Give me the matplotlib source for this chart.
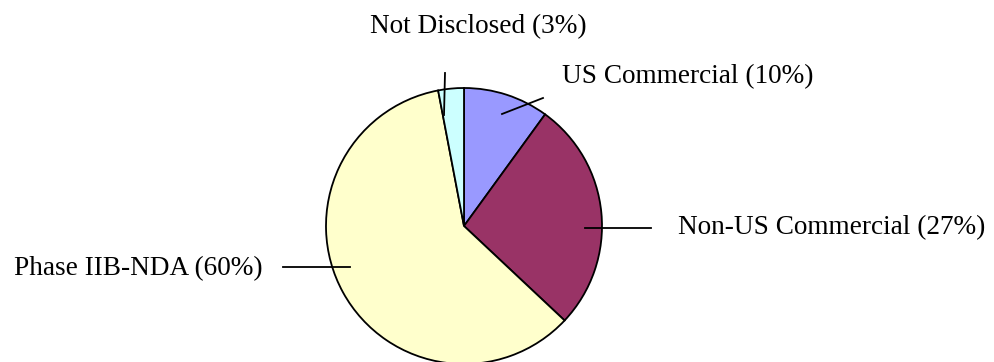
import matplotlib.pyplot as plt

# share of the total, clockwise from 12 o'clock
labels = ["US Commercial", "Non-US Commercial", "Phase IIB-NDA", "Not Disclosed"]
shares = [10, 27, 60, 3]
colors = ["#9999FF", "#993366", "#FFFFCC", "#CCFFFF"]

W, H = 995, 362
fig = plt.figure(figsize=(W / 100, H / 100), dpi=100)
ax = fig.add_axes([0, 0, 1, 1])

# work in pixel coords with y measured from the top
def py(y):
    return H - y

ax.pie(shares, colors=colors, startangle=90, counterclock=False,
       center=(464, py(226)), radius=138,
       wedgeprops=dict(edgecolor="black", linewidth=1.3))
ax.set_xlim(0, W)
ax.set_ylim(0, H)
ax.set_aspect("equal")
ax.axis("off")

# label anchor (x, baseline y), alignment and leader line (pixel coords)
label_pos = [
    ((562, 83), "left", [(502, 114), (543, 98)]),
    ((678, 234), "left", [(585, 228), (651, 228)]),
    ((263, 275), "right", [(283, 267), (350, 267)]),
    ((370, 33), "left", [(445, 73), (444, 115)]),
]

font = dict(family="Liberation Serif", fontsize=19.6)
for name, val, (xy, ha, line) in zip(labels, shares, label_pos):
    ax.text(xy[0], py(xy[1]), "%s (%d%%)" % (name, val), ha=ha, va="baseline", **font)
    ax.plot([p[0] for p in line], [py(p[1]) for p in line], color="black", lw=1.3)

fig.savefig("out.png", dpi=100, facecolor="white")
